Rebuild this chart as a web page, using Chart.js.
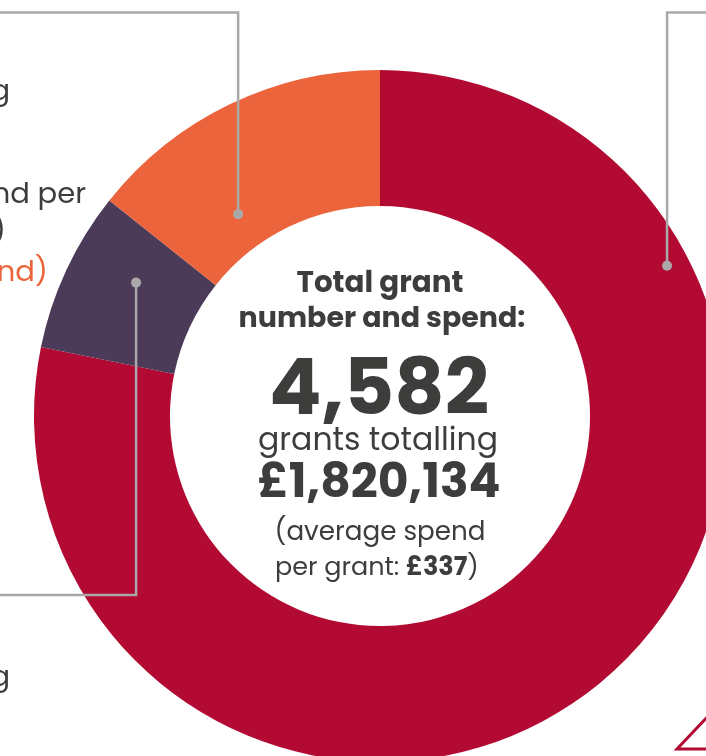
<!DOCTYPE html>
<html><head><meta charset="utf-8">
<script src="https://cdn.jsdelivr.net/npm/chart.js@4.4.0/dist/chart.umd.min.js"></script>
<style>
html,body{margin:0;padding:0;width:706px;height:756px;overflow:hidden;background:#fff;}
#c{position:absolute;left:0;top:0;}
</style></head><body>
<canvas id="c" width="760" height="832" style="width:760px;height:832px"></canvas>
<script>
// ---- data ----
const categories = ['Category A', 'Category B', 'Category C'];
const grantCounts = [3583, 344, 655];
const segmentColors = ['#B20A32', '#4B3A58', '#EC643C'];

const totalGrants = '4,582';
const totalSpend = '£1,820,134';
const averageSpend = '£337';

// visible (cropped) label fragments on the left edge
const sideLabels = [
  { text: 'g', right: 10, y: 100, color: '#3d3d3c' },
  { text: 'spend per', right: 86, y: 203, color: '#3d3d3c' },
  { text: ')', right: 6, y: 240, color: '#3d3d3c' },
  { text: 'spend)', right: 48, y: 281, color: '#EC643C' },
  { text: 'g', right: 10, y: 686, color: '#3d3d3c' }
];

// leader lines: segment index, position in arc, position across ring, elbow
const leaders = [
  { seg: 2, frac: 0.318, rFrac: 0.27, toY: 12.5, toX: -10 },
  { seg: 1, frac: 0.635, rFrac: 0.50, toY: 595, toX: -10 },
  { seg: 0, frac: 0.2216, rFrac: 0.838, toY: 12.5, toX: 770 }
];

const FONT = "'Poppins', 'DejaVu Sans', sans-serif";
const TEXT = '#3d3d3c';

function fitFont(ctx, text, weight, target) {
  ctx.font = weight + ' 100px ' + FONT;
  const w = ctx.measureText(text).width;
  return 100 * target / w;
}

const overlay = {
  id: 'overlay',
  afterDatasetsDraw(chart) {
    const ctx = chart.ctx;
    const arcs = chart.getDatasetMeta(0).data;
    ctx.save();
    // leader lines
    ctx.strokeStyle = '#a9a9a9';
    ctx.fillStyle = '#a9a9a9';
    ctx.lineWidth = 2.5;
    leaders.forEach(l => {
      const a = arcs[l.seg];
      const ang = a.startAngle + (a.endAngle - a.startAngle) * l.frac;
      const r = a.innerRadius + (a.outerRadius - a.innerRadius) * l.rFrac;
      const px = a.x + Math.cos(ang) * r;
      const py = a.y + Math.sin(ang) * r;
      ctx.beginPath();
      ctx.moveTo(px, py);
      ctx.lineTo(px, l.toY);
      ctx.lineTo(l.toX, l.toY);
      ctx.stroke();
      ctx.beginPath();
      ctx.arc(px, py, 5, 0, Math.PI * 2);
      ctx.fill();
    });

    // side labels
    ctx.textAlign = 'right';
    ctx.textBaseline = 'alphabetic';
    ctx.font = '400 29px ' + FONT;
    sideLabels.forEach(s => {
      ctx.fillStyle = s.color;
      ctx.fillText(s.text, s.right, s.y);
    });

    // centre text
    const cx = arcs[0].x;
    ctx.textAlign = 'center';
    ctx.fillStyle = TEXT;
    const lines = [
      { t: 'Total grant', w: 700, width: 167, y: 292, dx: 0 },
      { t: 'number and spend:', w: 700, width: 287, y: 327, dx: 2 },
      { t: totalGrants, w: 700, width: 220, y: 414, dx: -1 },
      { t: 'grants totalling', w: 400, width: 240, y: 450, dx: -2 },
      { t: totalSpend, w: 700, width: 243, y: 497, dx: -1 },
      { t: '(average spend', w: 400, width: 211, y: 540, dx: 0 }
    ];
    lines.forEach(L => {
      const size = fitFont(ctx, L.t, L.w, L.width);
      ctx.font = L.w + ' ' + size.toFixed(2) + 'px ' + FONT;
      ctx.fillText(L.t, cx + L.dx, L.y);
    });
    // mixed line
    const parts = [
      { t: 'per grant: ', w: 400 },
      { t: averageSpend, w: 700 },
      { t: ')', w: 400 }
    ];
    const base = 26;
    let total = 0;
    parts.forEach(p => { ctx.font = p.w + ' ' + base + 'px ' + FONT; total += ctx.measureText(p.t).width; });
    const target = 204;
    const sz = base * target / total;
    let x = cx - target / 2 - 3;
    ctx.textAlign = 'left';
    parts.forEach(p => {
      ctx.font = p.w + ' ' + sz.toFixed(2) + 'px ' + FONT;
      ctx.fillText(p.t, x, 575);
      x += ctx.measureText(p.t).width;
    });

    // decorative corner
    ctx.strokeStyle = '#B20A32';
    ctx.lineWidth = 3;
    ctx.beginPath();
    ctx.moveTo(712, 712);
    ctx.lineTo(677, 749);
    ctx.lineTo(720, 749);
    ctx.stroke();
    ctx.restore();
  }
};

new Chart(document.getElementById('c'), {
  type: 'doughnut',
  data: {
    labels: categories,
    datasets: [{
      data: grantCounts,
      backgroundColor: segmentColors,
      borderWidth: 0,
      hoverOffset: 0
    }]
  },
  options: {
    responsive: false,
    devicePixelRatio: 1,
    animation: false,
    radius: 346,
    cutout: '60.7%',
    layout: { padding: 0 },
    plugins: { legend: { display: false }, tooltip: { enabled: false } },
    events: []
  },
  plugins: [overlay]
});
</script>
</body></html>
